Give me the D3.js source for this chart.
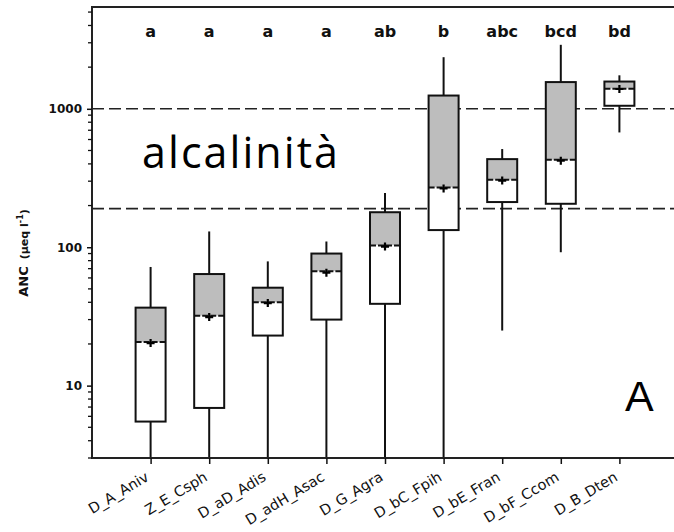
<!DOCTYPE html>
<html>
<head>
<meta charset="utf-8">
<script src="https://cdn.jsdelivr.net/npm/d3@7"></script>
<style>
  html, body { margin: 0; padding: 0; background: #fff; }
  svg { display: block; }
</style>
</head>
<body>
<div id="chart"></div>
<script>
// ---------------- data ----------------
const categories = ["D_A_Aniv", "Z_E_Csph", "D_aD_Adis", "D_adH_Asac", "D_G_Agra", "D_bC_Fpih", "D_bE_Fran", "D_bF_Ccom", "D_B_Dten"];
const whiskerHigh = [72, 130, 79, 110, 246, 2360, 512, 2900, 1746];
const q3Values    = [36.6, 64, 51, 90, 179, 1247, 433, 1560, 1574];
const medianValues= [20.7, 32, 40, 67, 103, 270, 307, 428, 1399];
const meanValues  = [20.3, 31.3, 39.5, 65.5, 101, 266, 303, 422, 1390];
const q1Values    = [5.5, 6.9, 23, 30, 39, 133, 212, 206, 1052];
const whiskerLow  = [1, 1, 1, 1, 1, 1, 25, 92, 675];
const groupLetters = ["a", "a", "a", "a", "ab", "b", "abc", "bcd", "bd"];
const refLines = [1000, 190];
const yTickValues = [10, 100, 1000];
const yDomain = [3, 5440];

(function () {
// ---------------- layout ----------------
const W = 674, H = 532;
const mLeft = 92, mTop = 7, mBottom = 458, rightEnd = 678;

const svg = d3.select("#chart").append("svg")
  .attr("width", W).attr("height", H);

const x = d3.scalePoint().domain(categories).range([mLeft, rightEnd]).padding(1);
const y = d3.scaleLog().domain(yDomain).range([mBottom, mTop]);

const boxes = categories.map((c, i) => ({
  cat: c, hi: whiskerHigh[i], q3: q3Values[i], med: medianValues[i],
  mean: meanValues[i], q1: q1Values[i], lo: whiskerLow[i], letter: groupLetters[i]
}));

svg.append("defs").append("clipPath").attr("id", "plotclip")
  .append("rect").attr("x", mLeft).attr("y", mTop)
  .attr("width", W - mLeft + 10).attr("height", mBottom - mTop);

const plot = svg.append("g").attr("clip-path", "url(#plotclip)");

// reference dashed lines
plot.selectAll("line.ref").data(refLines).enter().append("line")
  .attr("class", "ref")
  .attr("x1", mLeft).attr("x2", W + 5)
  .attr("y1", d => y(d)).attr("y2", d => y(d))
  .attr("stroke", "#222").attr("stroke-width", 1.6)
  .attr("stroke-dasharray", "12,5");

const bw = 30;
const g = plot.selectAll("g.box").data(boxes).enter().append("g").attr("class", "box");

// whiskers
g.append("line")
  .attr("x1", d => x(d.cat)).attr("x2", d => x(d.cat))
  .attr("y1", d => y(d.hi)).attr("y2", d => y(d.q3))
  .attr("stroke", "#111").attr("stroke-width", 2);
g.append("line")
  .attr("x1", d => x(d.cat)).attr("x2", d => x(d.cat))
  .attr("y1", d => y(d.q1)).attr("y2", d => y(d.lo))
  .attr("stroke", "#111").attr("stroke-width", 2);

// upper half (gray)
g.append("rect")
  .attr("x", d => x(d.cat) - bw / 2).attr("width", bw)
  .attr("y", d => y(d.q3)).attr("height", d => y(d.med) - y(d.q3))
  .attr("fill", "#bdbdbd");
// lower half (white)
g.append("rect")
  .attr("x", d => x(d.cat) - bw / 2).attr("width", bw)
  .attr("y", d => y(d.med)).attr("height", d => y(d.q1) - y(d.med))
  .attr("fill", "#fff");
// outline
g.append("rect")
  .attr("x", d => x(d.cat) - bw / 2).attr("width", bw)
  .attr("y", d => y(d.q3)).attr("height", d => y(d.q1) - y(d.q3))
  .attr("fill", "none").attr("stroke", "#111").attr("stroke-width", 2);
// median (dashed)
g.append("line")
  .attr("x1", d => x(d.cat) - bw / 2).attr("x2", d => x(d.cat) + bw / 2)
  .attr("y1", d => y(d.med)).attr("y2", d => y(d.med))
  .attr("stroke", "#111").attr("stroke-width", 2)
  .attr("stroke-dasharray", "6,2");
// mean marker
g.append("path")
  .attr("d", d => {
    const cx = x(d.cat), cy = y(d.mean);
    return `M${cx - 4},${cy}L${cx + 4},${cy}M${cx},${cy - 4}L${cx},${cy + 4}`;
  })
  .attr("stroke", "#000").attr("stroke-width", 2.2);

// group letters
svg.selectAll("text.letter").data(boxes).enter().append("text")
  .attr("class", "letter")
  .attr("x", d => x(d.cat)).attr("y", 37)
  .attr("text-anchor", "middle")
  .attr("font-family", "DejaVu Sans, Verdana, sans-serif")
  .attr("font-weight", "bold").attr("font-size", 16)
  .attr("fill", "#111")
  .text(d => d.letter);

// frame
svg.append("path")
  .attr("d", `M${W + 5},${mTop}H${mLeft}V${mBottom}H${W + 5}`)
  .attr("fill", "none").attr("stroke", "#222").attr("stroke-width", 2);

// y axis
const yAxis = d3.axisLeft(y)
  .tickValues(yTickValues)
  .tickFormat(d3.format("d"))
  .tickSize(5).tickPadding(5);
const ya = svg.append("g").attr("transform", `translate(${mLeft},0)`).call(yAxis);
ya.select(".domain").remove();
ya.selectAll(".tick line").attr("stroke", "#111").attr("stroke-width", 1.5);
ya.selectAll(".tick text")
  .attr("font-family", "DejaVu Sans, Verdana, sans-serif")
  .attr("font-weight", "bold").attr("font-size", 12).attr("fill", "#111");

// minor ticks
const minorTicks = y.ticks(20).filter(v => !yTickValues.includes(v));
svg.append("g").selectAll("line").data(minorTicks).enter().append("line")
  .attr("x1", mLeft - 4).attr("x2", mLeft)
  .attr("y1", d => y(d)).attr("y2", d => y(d))
  .attr("stroke", "#111").attr("stroke-width", 1.3);

// x axis
const xAxis = d3.axisBottom(x).tickSize(6).tickFormat("");
const xa = svg.append("g").attr("transform", `translate(0,${mBottom})`).call(xAxis);
xa.select(".domain").remove();
xa.selectAll(".tick line").attr("stroke", "#111").attr("stroke-width", 1.5);

svg.append("g").selectAll("text").data(categories).enter().append("text")
  .attr("transform", d => `translate(${x(d) - 6},${mBottom + 13}) rotate(-31)`)
  .attr("text-anchor", "end")
  .attr("dy", "0.7em")
  .attr("font-family", "DejaVu Sans, Verdana, sans-serif")
  .attr("font-size", 14.5).attr("fill", "#111")
  .text(d => d);

// y axis title
const yt = svg.append("text")
  .attr("transform", `translate(28,253) rotate(-90)`)
  .attr("text-anchor", "middle")
  .attr("font-family", "DejaVu Sans, Verdana, sans-serif")
  .attr("font-weight", "bold").attr("fill", "#111");
yt.append("tspan").attr("font-size", 13).text("ANC");
yt.append("tspan").attr("font-size", 11).attr("dx", 7).text("(µeq l");
yt.append("tspan").attr("font-size", 8).attr("dy", -5).text("-1");
yt.append("tspan").attr("font-size", 11).attr("dy", 5).text(")");

// annotation
svg.append("text")
  .attr("x", 142).attr("y", 168)
  .attr("font-family", "'Comic Sans MS', 'Open Sans', sans-serif")
  .attr("font-size", 43).attr("fill", "#000")
  .attr("textLength", 196).attr("lengthAdjust", "spacing")
  .text("alcalinità");

svg.append("text")
  .attr("x", 625).attr("y", 411)
  .attr("font-family", "Liberation Sans, Arial, sans-serif")
  .attr("font-size", 43).attr("fill", "#000")
  .text("A");
})();
</script>
</body>
</html>
